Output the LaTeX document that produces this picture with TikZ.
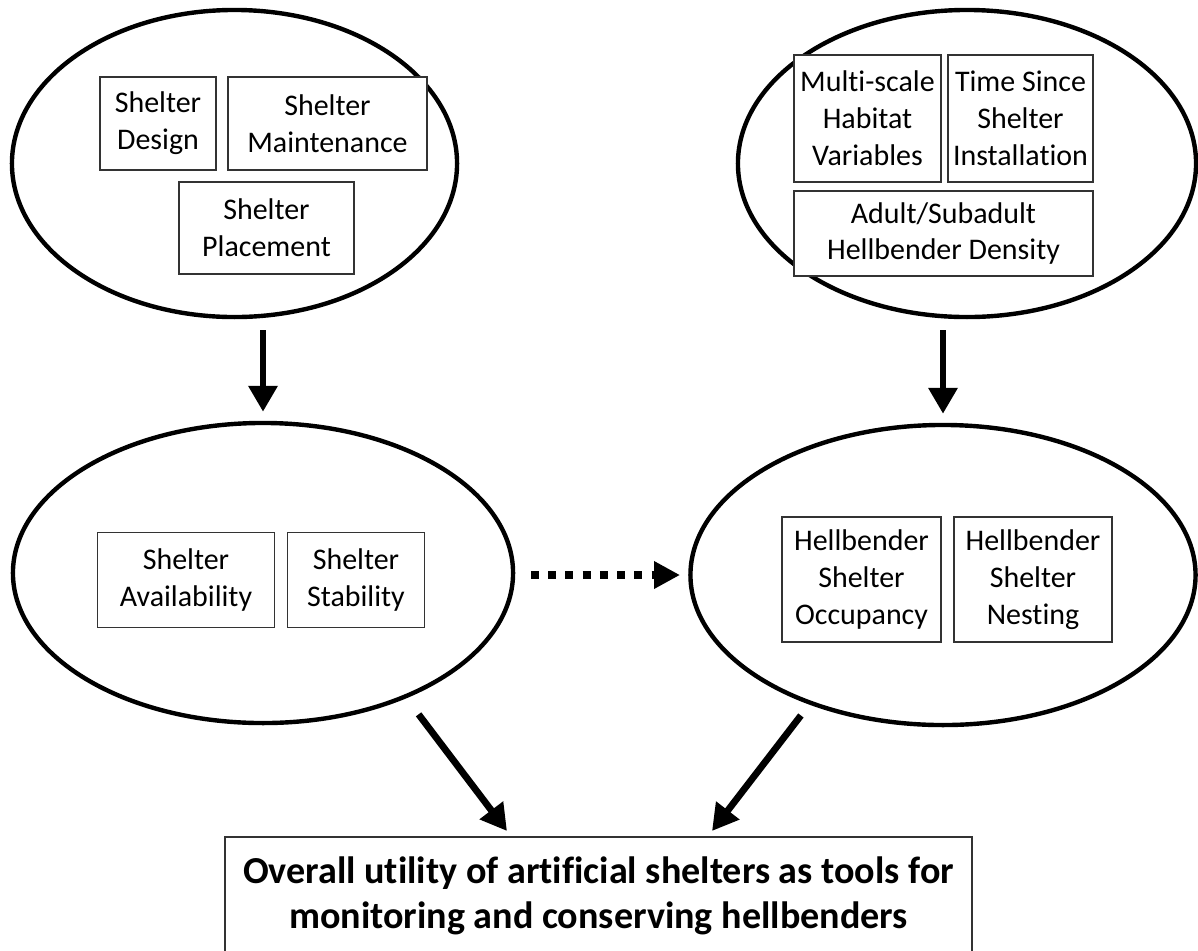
\documentclass[tikz,border=0pt]{standalone}
\usepackage{fontspec}
\setmainfont{Carlito}[Ligatures={NoCommon,NoRare,NoContextual}]
\usetikzlibrary{arrows.meta,positioning,shapes.geometric}
\tikzset{
  group/.style={draw=black, line width=0.11cm, ellipse, inner sep=0pt, outer sep=0pt},
  factor/.style={draw=black!80, line width=0.9pt, fill=white, align=center, inner sep=0pt,
    font=\fontsize{21.3}{26.3}\selectfont},
  outcome/.style={draw=black!80, line width=0.9pt, fill=white, align=center, inner sep=0pt,
    font=\fontsize{27.1}{32}\selectfont\bfseries},
  flow/.style={draw=black, line width=0.17cm, -{Triangle[length=0.65cm,width=0.7cm]}},
  dashedflow/.style={draw=black, line width=0.2cm, dash pattern=on 0.2cm off 0.23cm,
    -{Triangle[length=0.65cm,width=0.65cm]}}
}
\begin{document}
\begin{tikzpicture}[x=0.025cm, y=-0.025cm]
  \useasboundingbox (0,0) rectangle (1198,950);

  % groups
  \node[group, minimum width=11.125cm, minimum height=7.675cm] (design) at (234.5,163.5) {};
  \node[group, minimum width=11.45cm, minimum height=7.675cm] (habitat) at (967,163.5) {};
  \node[group, minimum width=12.5cm, minimum height=7.5cm] (shelter) at (263,573) {};
  \node[group, minimum width=12.625cm, minimum height=7.5cm] (use) at (943,575) {};

  % factors
  \node[factor, minimum width=2.9cm, minimum height=2.325cm] (des) at (158,123.5) {Shelter\\Design};
  \node[factor, minimum width=4.975cm, minimum height=2.325cm] (maint) at (327.5,123.5) {Shelter\\Maintenance};
  \node[factor, minimum width=4.375cm, minimum height=2.3cm] (place) at (266.5,228) {Shelter\\Placement};

  \node[factor, minimum width=3.675cm, minimum height=3.175cm] (multi) at (867.5,118.5) {Multi-scale\\Habitat\\Variables};
  \node[factor, minimum width=3.625cm, minimum height=3.175cm] (since) at (1020.5,118.5) {Time Since\\Shelter\\Installation};
  \node[factor, minimum width=7.475cm, minimum height=2.125cm] (dens) at (943.5,233.5) {Adult/Subadult\\Hellbender Density};

  \node[factor, minimum width=4.425cm, minimum height=2.375cm] (avail) at (186,580) {Shelter\\Availability};
  \node[factor, minimum width=3.425cm, minimum height=2.375cm] (stab) at (356,580) {Shelter\\Stability};

  \node[factor, minimum width=3.975cm, minimum height=3.125cm] (occ) at (861.5,579.5) {Hellbender\\Shelter\\Occupancy};
  \node[factor, minimum width=3.95cm, minimum height=3.125cm] (nest) at (1033,579.5) {Hellbender\\Shelter\\Nesting};

  \node[outcome, minimum width=18.675cm, minimum height=2.95cm] (util) at (598.5,896)
    {Overall utility of artificial shelters as tools for\\monitoring and conserving hellbenders};

  % connectors
  \coordinate (inL) at (507,831);
  \coordinate (inR) at (712,831);
  \draw[flow, shorten <=0.33cm, shorten >=0.28cm] (shelter.north |- design.south) -- (shelter.north);
  \draw[flow, shorten <=0.33cm, shorten >=0.28cm] (use.north |- habitat.south) -- (use.north);
  \draw[dashedflow, shorten <=0.45cm, shorten >=0.26cm] (shelter.east |- use.west) -- (use.west);
  \draw[flow, shorten <=0.56cm] (shelter.-41.5) -- (inL);
  \draw[flow, shorten <=0.4cm] (use.-136.6) -- (inR);
\end{tikzpicture}
\end{document}
